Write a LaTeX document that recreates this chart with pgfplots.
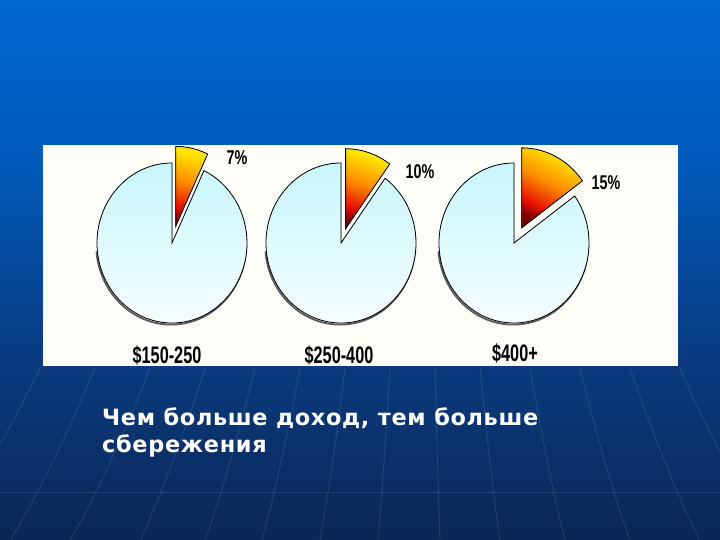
\documentclass[border=0pt]{standalone}
\usepackage{fontspec}
\setmainfont{DejaVu Sans}
\newfontfamily\capfont[LetterSpace=3]{DejaVu Sans Bold}
\newfontfamily\narrowfont[FakeStretch=0.68]{Liberation Sans Bold}
\newfontfamily\pctfont[FakeStretch=0.72]{Liberation Sans Bold}
\usepackage{pgfplots}
\pgfplotsset{compat=1.18}
\definecolor{bgA}{RGB}{3,103,208}
\definecolor{bgB}{RGB}{0,92,190}
\definecolor{bgC}{RGB}{10,58,125}
\definecolor{bgD}{RGB}{12,38,85}
\definecolor{pietop}{RGB}{200,246,251}
\definecolor{piebot}{RGB}{246,254,255}
\definecolor{panel}{RGB}{255,253,247}
\definecolor{sdark}{RGB}{120,0,0}
\definecolor{sred}{RGB}{230,15,0}
\definecolor{sorange}{RGB}{252,140,0}
\definecolor{syellow}{RGB}{255,228,0}
\pgfdeclareverticalshading{slicegrad}{100bp}{color(0bp)=(sdark); color(25bp)=(sdark); color(34bp)=(sred); color(52bp)=(sorange); color(72bp)=(syellow); color(100bp)=(syellow)}
\pgfdeclareverticalshading{bggrad}{100bp}{color(0bp)=(bgD); color(25bp)=(bgD); color(40.7bp)=(bgC); color(62bp)=(bgB); color(75bp)=(bgA); color(100bp)=(bgA)}
% #1 cx, #2 cy (axis units, y up), #3 percent, #4 explode distance
\newcommand{\pie}[4]{%
  \draw[gray!70!black, line width=1.8bp] (axis cs:{#1-0.8+75*cos(185)},{#2-1.6+80*sin(185)}) arc[start angle=185, end angle=360, x radius=75bp, y radius=80bp];
  \filldraw[draw=black, line width=0.8bp, top color=pietop, bottom color=piebot]
    (axis cs:#1,#2) -- (axis cs:#1,{#2+80})
    arc[start angle=90, end angle={450-3.6*#3}, x radius=75bp, y radius=80bp] -- cycle;
  \filldraw[draw=black, line width=0.8bp, shading=slicegrad, shading angle={-1.8*#3}]
    (axis cs:{#1+#4*cos(90-1.8*#3)},{#2+#4*sin(90-1.8*#3)})
    -- (axis cs:{#1+#4*cos(90-1.8*#3)+75*cos(90-3.6*#3)},{#2+#4*sin(90-1.8*#3)+80*sin(90-3.6*#3)})
    arc[start angle={90-3.6*#3}, end angle=90, x radius=75bp, y radius=80bp] -- cycle;
}
\begin{document}
\begin{tikzpicture}
% slide background
\begin{scope}[x=1bp, y=1bp]
\fill[shading=bggrad] (0,0) rectangle (720,540);
\foreach \a/\b in {40/-60, 95/10, 150/70, 205/140, 255/205, 300/262, 345/320, 390/378, 435/440, 480/500, 530/565, 580/630, 630/700, 680/770}{
  \draw[white, opacity=0.11, line width=0.8bp] (\a,172) .. controls ({\a+(\b-\a)*0.3},110) and ({\a+(\b-\a)*0.7},40) .. (\b,0);
}
\draw[white, opacity=0.08, line width=0.8bp] (0,48) -- (720,48);
\end{scope}
\begin{axis}[
  x=1bp, y=1bp, xmin=0, xmax=720, ymin=0, ymax=540,
  hide axis, clip=false, scale only axis,
]
% chart panel
\fill[panel] (axis cs:43,174) rectangle (axis cs:678,395);
% pies: savings share by income group
\pie{172}{297}{7}{17}
\pie{341}{297}{10}{15}
\pie{514}{297}{15}{17}
% percent labels
\node[font=\pctfont\fontsize{20}{20}\selectfont, text=black] at (axis cs:237,382) {7\%};
\node[font=\pctfont\fontsize{20}{20}\selectfont, text=black] at (axis cs:420,368) {10\%};
\node[font=\pctfont\fontsize{20}{20}\selectfont, text=black] at (axis cs:606,357) {15\%};
% category labels
\node[font=\narrowfont\fontsize{24}{24}\selectfont, text=black] at (axis cs:167,184) {\$150-250};
\node[font=\narrowfont\fontsize{24}{24}\selectfont, text=black] at (axis cs:339,184) {\$250-400};
\node[font=\narrowfont\fontsize{24}{24}\selectfont, text=black] at (axis cs:515,186) {\$400+};
% caption
\node[anchor=base west, align=left, text=white, inner sep=0pt, font=\capfont\fontsize{22.5}{28}\selectfont] at (axis cs:102,87) {Чем больше доход, тем больше\\сбережения};
\end{axis}
\pgfresetboundingbox
\useasboundingbox (0,0) rectangle (720bp,540bp);
\end{tikzpicture}
\end{document}
